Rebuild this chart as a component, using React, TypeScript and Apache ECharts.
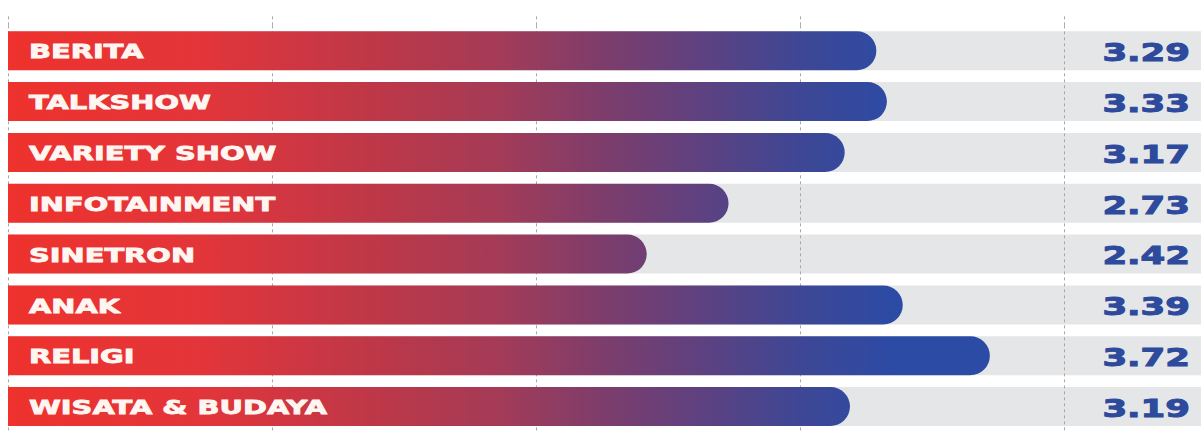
import React, { useEffect, useRef } from "react";
import * as echarts from "echarts";

const categories = [
  "BERITA",
  "TALKSHOW",
  "VARIETY SHOW",
  "INFOTAINMENT",
  "SINETRON",
  "ANAK",
  "RELIGI",
  "WISATA & BUDAYA",
];
const values = [3.29, 3.33, 3.17, 2.73, 2.42, 3.39, 3.72, 3.19];
const axisMax = 4.52;
const tickInterval = 1;

export default function App() {
  const ref = useRef<HTMLDivElement>(null);
  useEffect(() => {
    if (!ref.current) return;
    const chart = echarts.init(ref.current, null, { renderer: "svg" });
    const gradient = new echarts.graphic.LinearGradient(
      8,
      0,
      900,
      0,
      [
        { offset: 0, color: "#EE322D" },
        { offset: 0.215, color: "#E3353A" },
        { offset: 0.44, color: "#B8384A" },
        { offset: 0.55, color: "#A43B57" },
        { offset: 0.664, color: "#7E3D6B" },
        { offset: 0.776, color: "#5E4180" },
        { offset: 0.888, color: "#3E4795" },
        { offset: 1, color: "#2B4BA5" },
      ],
      true
    );
    chart.setOption({
      animation: false,
      grid: { left: 8, right: 0, top: 25.35, height: 418.4, containLabel: false },
      xAxis: {
        type: "value",
        position: "top",
        min: 0,
        max: axisMax,
        interval: tickInterval,
        axisLine: { show: false },
        axisLabel: { show: false },
        axisTick: {
          show: true,
          length: 12,
          lineStyle: { color: "#A8A8A8", type: [3, 3], width: 1 },
        },
        splitLine: {
          show: true,
          lineStyle: { color: "#A8A8A8", type: [3, 3], width: 1 },
        },
      },
      yAxis: {
        type: "category",
        data: categories,
        inverse: true,
        axisLine: { show: false },
        axisTick: { show: false },
        axisLabel: { show: false },
        splitLine: { show: false },
      },
      series: [
        {
          type: "bar",
          z: -1,
          data: categories.map(() => axisMax),
          barWidth: 39,
          barGap: "-100%",
          itemStyle: { color: "#E5E6E8" },
          silent: true,
        },
        {
          type: "bar",
          z: 2,
          data: values,
          barWidth: 39,
          barGap: "-100%",
          itemStyle: { color: gradient, borderRadius: [0, 19.5, 19.5, 0] },
        },
        {
          type: "custom",
          z: 5,
          data: values.map((v, i) => [v, i]),
          encode: { x: 0, y: 1 },
          renderItem: (params: any, api: any) => {
            const idx = api.value(1);
            const base = api.coord([0, idx]);
            const w = api.getWidth();
            return {
              type: "group",
              children: [
                {
                  type: "text",
                  x: base[0] + 21,
                  y: base[1] + 1,
                  scaleX: 1.52,
                  style: {
                    text: categories[idx],
                    fill: "#FFF6F2",
                    stroke: "#FFF6F2",
                    lineWidth: 0.8,
                    fontSize: 19,
                    fontWeight: "bold",
                    fontFamily: "DejaVu Sans",
                    align: "left",
                    verticalAlign: "middle",
                  },
                },
                {
                  type: "text",
                  x: w - 11,
                  y: base[1] + 2,
                  scaleX: 1.48,
                  style: {
                    text: values[idx].toFixed(2),
                    fill: "#2D4A9C",
                    stroke: "#2D4A9C",
                    lineWidth: 1,
                    fontSize: 24,
                    fontWeight: "bold",
                    fontFamily: "DejaVu Sans",
                    align: "right",
                    verticalAlign: "middle",
                  },
                },
              ],
            };
          },
        },
      ],
    });
    return () => chart.dispose();
  }, []);
  return (
    <div
      ref={ref}
      style={{ position: "fixed", left: 0, top: 0, width: 1201, height: 432, background: "#FFFFFF" }}
    />
  );
}
